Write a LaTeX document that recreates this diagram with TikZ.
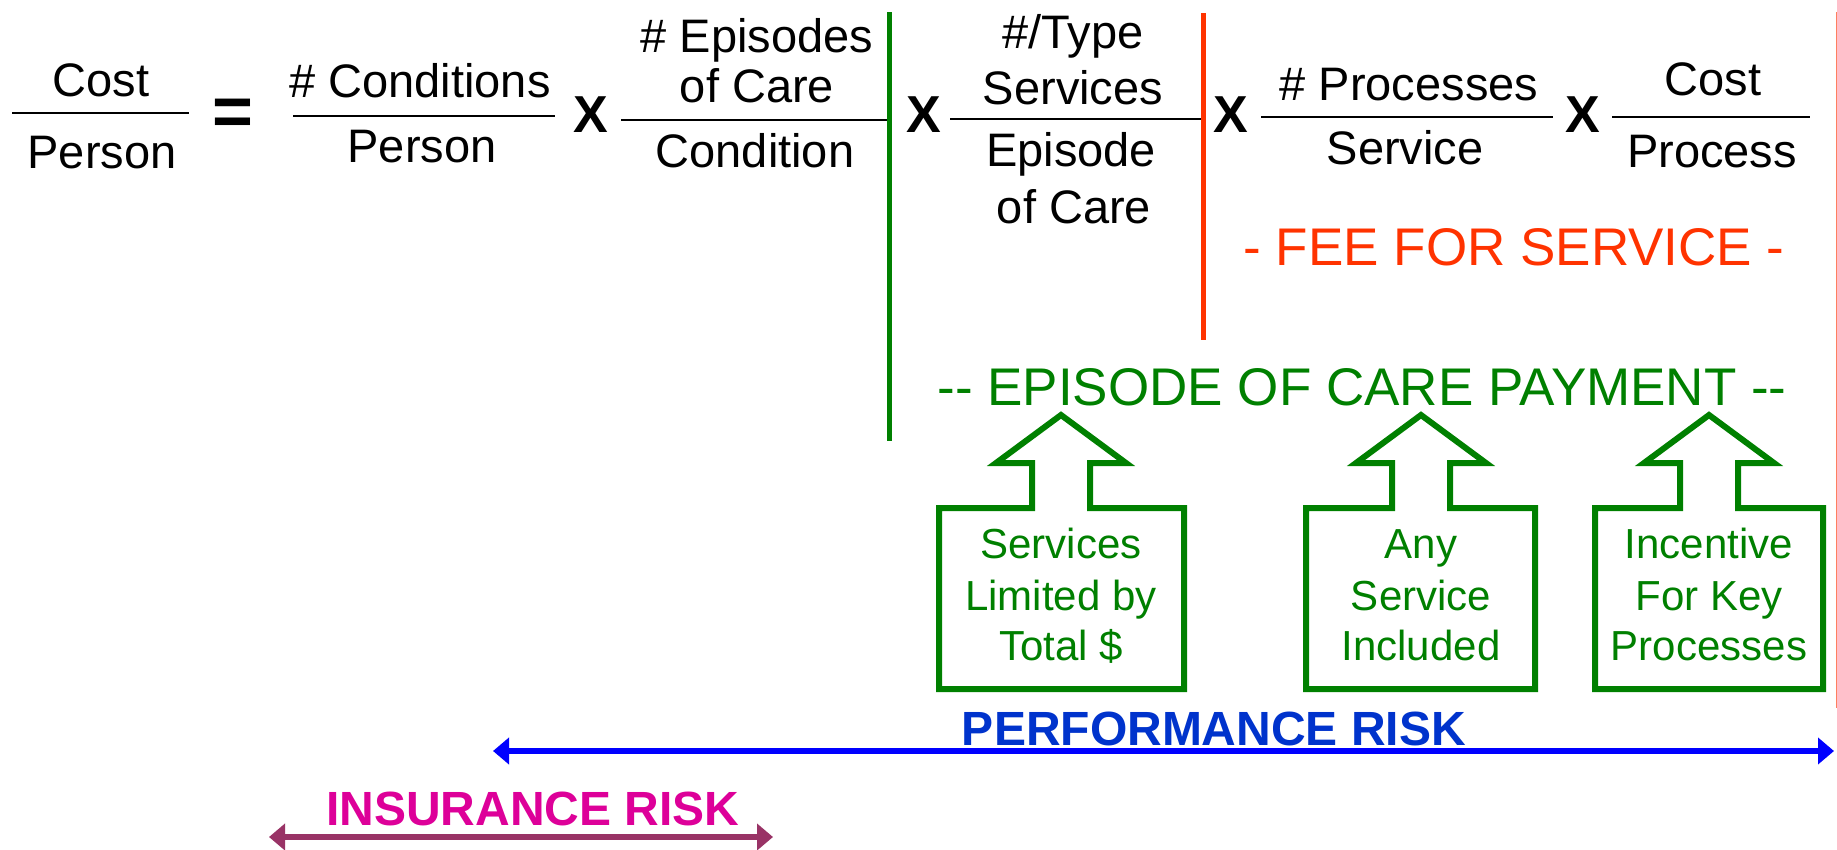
\documentclass[tikz,border=0pt]{standalone}
\usepackage{fontspec}
\setmainfont{Liberation Sans}
\usetikzlibrary{arrows.meta}
\definecolor{eqgreen}{HTML}{008000}
\definecolor{feered}{HTML}{FF3300}
\definecolor{perfblue}{HTML}{0033CC}
\definecolor{arrowblue}{HTML}{0000FF}
\definecolor{insmag}{HTML}{DD0099}
\definecolor{insmaroon}{HTML}{993366}
\definecolor{edgered}{HTML}{FF7F5F}

\begin{document}
\begin{tikzpicture}[x=1pt,y=-1pt,
  term/.style={font=\fontsize{47}{50}\selectfont, inner sep=0pt, anchor=base},
  timesop/.style={font=\bfseries\fontsize{52}{52}\selectfont, inner sep=0pt},
  fracbar/.style={line width=2.2pt},
  divider/.style={line width=5pt},
  banner/.style={font=\fontsize{53}{56}\selectfont, inner sep=0pt, anchor=base},
  boxtext/.style={font=\fontsize{42}{46}\selectfont, inner sep=0pt, anchor=base, text=eqgreen},
  arrowbox/.style={draw=eqgreen, line width=6pt, miter limit=10},
  risk/.style={font=\bfseries\fontsize{48}{50}\selectfont, inner sep=0pt, anchor=base},
  riskarrow/.style={line width=5.5pt, {Triangle[length=16pt,width=26pt]}-{Triangle[length=16pt,width=26pt]}}
]
\useasboundingbox (0,0) rectangle (1837,849);
\fill[white] (0,0) rectangle (1837,849);

% ---- Cost / Person
\node[term] (cost) at (101,96) {Cost};
\draw[fracbar] (12,113) -- (189,113);
\node[term] (person) at (102,168) {Person};
\node[font=\bfseries\fontsize{70}{70}\selectfont, inner sep=0pt] (eq) at (233,117) {=};

% ---- # Conditions / Person
\node[term] (cond) at (420,97) {\# Conditions};
\draw[fracbar] (293,116) -- (555,116);
\node[term] (condper) at (422,162) {Person};
\node[timesop] (x1) at (591,115) {X};

% ---- # Episodes of Care / Condition
\node[term] (epi1) at (757,52) {\# Episodes};
\node[term] (epi2) at (757,102) {of Care};
\draw[fracbar] (621,120) -- (889,120);
\node[term] (epicond) at (755,167) {Condition};

% green divider
\draw[divider, eqgreen] (889,12) -- (889,441);
\node[timesop] (x2) at (924,115) {X};

% ---- #/Type Services / Episode of Care
\node[term] (typ1) at (1073,48) {\#/Type};
\node[term] (typ2) at (1073,104) {Services};
\draw[fracbar] (950,119) -- (1203,119);
\node[term] (typ3) at (1071,166) {Episode};
\node[term] (typ4) at (1074,223) {of Care};

% red divider
\draw[divider, feered] (1203,13) -- (1203,340);
\node[timesop] (x3) at (1231,115) {X};

% ---- # Processes / Service
\node[term] (proc) at (1409,100) {\# Processes};
\draw[fracbar] (1261,117) -- (1553,117);
\node[term] (procser) at (1405,164) {Service};
\node[timesop] (x4) at (1583,115) {X};

% ---- Cost / Process
\node[term] (cost2) at (1713,95) {Cost};
\draw[fracbar] (1612,117) -- (1810,117);
\node[term] (costproc) at (1712,167) {Process};

% ---- payment banners
\node[banner, text=feered] (ffs) at (1514,265) {- FEE FOR SERVICE -};
\node[banner, text=eqgreen] (eoc) at (1362,405) {-{}- EPISODE OF CARE PAYMENT -{}-};

% ---- up-arrow boxes
\foreach \c/\l/\r in {1061/939/1184, 1421/1306/1535, 1709/1595/1823}{
  \draw[arrowbox] (\l,689) -- (\l,508) -- ({\c-29},508) -- ({\c-29},463)
    -- ({\c-65},463) -- (\c,415) -- ({\c+65},463) -- ({\c+29},463)
    -- ({\c+29},508) -- (\r,508) -- (\r,689) -- cycle;
}
\node[boxtext] (b1a) at (1061,558) {Services};
\node[boxtext] (b1b) at (1061,610) {Limited by};
\node[boxtext] (b1c) at (1061,660) {Total \$};
\node[boxtext] (b2a) at (1421,558) {Any};
\node[boxtext] (b2b) at (1421,610) {Service};
\node[boxtext] (b2c) at (1421,660) {Included};
\node[boxtext] (b3a) at (1709,558) {Incentive};
\node[boxtext] (b3b) at (1709,610) {For Key};
\node[boxtext] (b3c) at (1709,660) {Processes};

% ---- risk spans
\node[risk, text=perfblue] (perf) at (1214,745) {PERFORMANCE RISK};
\coordinate (perfL) at (493,751);
\coordinate (perfR) at (1834,751);
\draw[riskarrow, arrowblue] (perfL) -- (perfR);

\node[risk, text=insmag] (ins) at (533,825) {INSURANCE RISK};
\coordinate (insL) at (269,837);
\coordinate (insR) at (773,837);
\draw[riskarrow, insmaroon] (insL) -- (insR);

% right edge rule
\draw[edgered, line width=1pt] (1836,12) -- (1836,708);
\end{tikzpicture}
\end{document}
